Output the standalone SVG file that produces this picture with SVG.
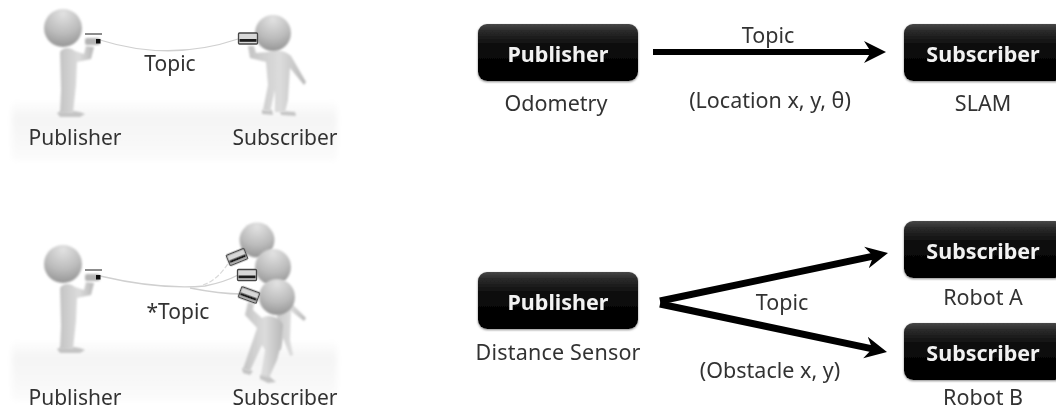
<svg xmlns="http://www.w3.org/2000/svg" width="1056" height="412" viewBox="0 0 1056 412">
<style>
.t{font-family:"Noto Sans","Open Sans","Liberation Sans",sans-serif;font-size:21px;fill:#333;text-anchor:middle;filter:url(#txt)}
.l{font-family:"Noto Sans","Open Sans","Liberation Sans",sans-serif;font-size:21.5px;fill:#333;text-anchor:middle;filter:url(#txt)}
.b{font-family:"Noto Sans","Open Sans","Liberation Sans",sans-serif;font-size:21.5px;font-weight:700;fill:#f2f2f2;text-anchor:middle;filter:url(#txt)}
.box{fill:url(#boxg);filter:url(#sh)}
.ln{fill:none;stroke:#000;stroke-width:6;filter:url(#txt)}
.ln2{fill:none;stroke:#000;stroke-width:7;filter:url(#txt)}
.str{fill:none;stroke:#d0d0d0;stroke-width:1.3}
.str2{fill:none;stroke:#dadada;stroke-width:1.2;stroke-dasharray:5 2}
.bd{fill:url(#bodyg);filter:url(#soft)}
.ft{fill:#c4c4c4;filter:url(#soft)}
.hd{fill:url(#headg);filter:url(#soft)}
</style>
<defs>
<linearGradient id="boxg" x1="0" y1="0" x2="0" y2="1"><stop offset="0" stop-color="#484848"/><stop offset=".12" stop-color="#2a2a2a"/><stop offset=".4" stop-color="#0a0a0a"/><stop offset="1" stop-color="#000"/></linearGradient>
<radialGradient id="headg" cx=".5" cy=".12" r=".95"><stop offset="0" stop-color="#e2e2e2"/><stop offset=".55" stop-color="#bcbcbc"/><stop offset="1" stop-color="#8f8f8f"/></radialGradient>
<linearGradient id="bodyg" x1="0" y1="0" x2="1" y2="0"><stop offset="0" stop-color="#c4c4c4"/><stop offset=".55" stop-color="#dcdcdc"/><stop offset="1" stop-color="#b8b8b8"/></linearGradient>
<linearGradient id="floor" x1="0" y1="0" x2="0" y2="1"><stop offset="0" stop-color="#fff"/><stop offset=".3" stop-color="#f4f4f4"/><stop offset="1" stop-color="#fbfbfb"/></linearGradient>
<filter id="soft" x="-20%" y="-20%" width="140%" height="140%"><feGaussianBlur stdDeviation=".8"/></filter>
<filter id="txt" filterUnits="userSpaceOnUse" x="-100" y="-100" width="1300" height="700"><feGaussianBlur stdDeviation=".35"/></filter>
<filter id="blur3" x="-20%" y="-50%" width="140%" height="200%"><feGaussianBlur stdDeviation="3"/></filter>
<filter id="sh" x="-10%" y="-10%" width="120%" height="130%"><feDropShadow dx="0" dy="1" stdDeviation="1.300" flood-color="#888"/></filter>
<marker id="ah" markerUnits="userSpaceOnUse" markerWidth="26" markerHeight="26" refX="12" refY="12" orient="auto"><path d="M0 1L22 12L0 23L7 12Z" fill="#000"/></marker>
<g id="pubfig">
<path class="ft" d="M57 113C62 110 76 110 85 114L80 117H60Z"/>
<path class="bd" d="M60 52C63 47 70 47 75 51L84 54L86 46L94 47L91 59L77 62L76 85L73 113L60 113L61 90Z"/>
<circle class="hd" cx="63" cy="28" r="19"/>
<path d="M85 34H102" stroke="#666" stroke-width="1.500" filter="url(#txt)"/>
<rect x="85" y="38" width="15" height="7" rx="2" fill="#b4b4b4" filter="url(#soft)"/>
<rect x="96" y="39" width="4.500" height="4.500" fill="#111" filter="url(#txt)"/>
</g>
<g id="subfig">
<path class="ft" d="M262 110L272 110L273 115L262 114ZM280 111L295 112L296 116L281 115Z"/>
<path class="bd" d="M248 46L254 46L256 53L268 52C276 49 286 51 291 56L306 82L304 85L290 68L289 84L288 100L285 112L275 112L275 90L270 112L263 110L268 85L266 62L250 58Z"/>
<circle class="hd" cx="273" cy="33" r="18"/>
</g>
<g id="can"><rect x="-9.500" y="-5.500" width="19" height="11" rx="1" fill="#d8d8d8" stroke="#444" stroke-width="1.300"/><rect x="-8.500" y="0.500" width="17" height="2.800" fill="#1c1c1c"/></g>
</defs>

<g id="scene-top">
<rect x="12" y="100" width="325" height="60" fill="url(#floor)" filter="url(#blur3)"/>
<path class="str" d="M100 40Q170 62 238 39"/>
<use href="#pubfig"/>
<use href="#subfig"/>
<use href="#can" x="248" y="38.500" filter="url(#txt)"/>
<text class="t" x="170" y="71">Topic</text>
<text class="t" x="75" y="145">Publisher</text>
<text class="t" x="285" y="145">Subscriber</text>
</g>

<g id="scene-bottom">
<rect x="12" y="340" width="325" height="60" fill="url(#floor)" filter="url(#blur3)"/>
<path class="str" d="M100 276Q160 290 205 286Q225 282 238 275"/>
<path class="str2" d="M203 285Q218 280 229 262"/>
<path class="str" d="M190 288Q220 294 242 294"/>
<use href="#pubfig" y="236"/>
<path class="bd" d="M288 300L306 318L304 321L291 311L290 340L293 355L290 356L283 338L281 350L272 350L278 310Z"/>
<circle class="hd" cx="257" cy="240" r="17.500"/>
<use href="#can" transform="translate(237 257) rotate(-22)" filter="url(#txt)"/>
<circle class="hd" cx="273" cy="267" r="18"/>
<use href="#can" x="247" y="275" filter="url(#txt)"/>
<path class="bd" d="M245 315L248 302L254 304L253 310L262 318C270 313 281 318 283 325L281 345L277 360L269 378L261 376L265 350L262 345L250 371L243 369L253 340L257 328Z"/>
<path class="ft" d="M242 368L253 371L250 375L243 373ZM260 375L270 377L276 382L268 383L260 379Z"/>
<circle class="hd" cx="277" cy="297" r="18"/>
<use href="#can" transform="translate(249 295) rotate(20)" filter="url(#txt)"/>
<text class="t" x="178" y="319">*Topic</text>
<text class="t" x="75" y="405">Publisher</text>
<text class="t" x="285" y="405">Subscriber</text>
</g>

<g id="connectors">
<path class="ln" d="M653 52H876" marker-end="url(#ah)"/>
<path class="ln2" d="M660 301L878.200 255.100" marker-end="url(#ah)"/>
<path class="ln2" d="M660 304L877.200 349.900" marker-end="url(#ah)"/>
</g>

<g id="pub1"><rect class="box" x="478" y="24" width="160" height="57" rx="9"/><text class="b" x="558" y="62">Publisher</text><text class="l" x="556" y="111">Odometry</text></g>
<g id="sub1"><rect class="box" x="904" y="24" width="160" height="57" rx="9"/><text class="b" x="983" y="62">Subscriber</text><text class="l" x="983" y="111">SLAM</text></g>
<g id="pub2"><rect class="box" x="478" y="272" width="160" height="57" rx="9"/><text class="b" x="558" y="310">Publisher</text><text class="l" x="558" y="360" textLength="165">Distance Sensor</text></g>
<g id="sub2"><rect class="box" x="904" y="221" width="160" height="57" rx="9"/><text class="b" x="983" y="259">Subscriber</text><text class="l" x="983" y="305">Robot A</text></g>
<g id="sub3"><rect class="box" x="904" y="323" width="160" height="57" rx="9"/><text class="b" x="983" y="361">Subscriber</text><text class="l" x="983" y="405">Robot B</text></g>

<g id="labels">
<text class="l" x="768" y="43">Topic</text>
<text class="l" x="770" y="108">(Location x, y, θ)</text>
<text class="l" x="782" y="310">Topic</text>
<text class="l" x="770" y="378">(Obstacle x, y)</text>
</g>
</svg>
